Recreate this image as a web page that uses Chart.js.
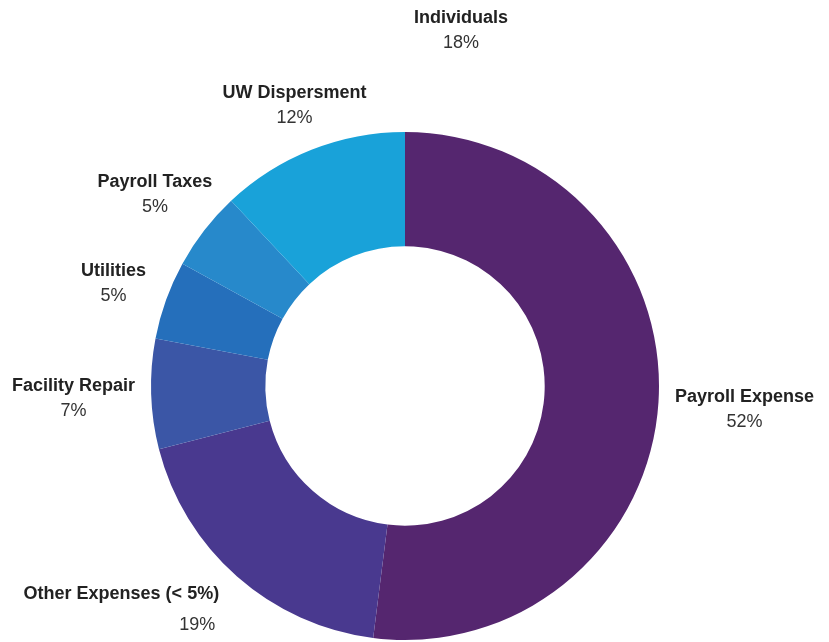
<!DOCTYPE html>
<html lang="en">
<head>
    <meta charset="UTF-8">
    <title>Expenses</title>
    <script src="https://cdn.jsdelivr.net/npm/chart.js"></script>
    <style>
        html, body {
            margin: 0;
            padding: 0;
            background: #ffffff;
        }
        .chart-container {
            width: 829px;
            height: 642px;
        }
    </style>
</head>
<body>
    <div class="chart-container">
        <canvas id="expenseChart"></canvas>
    </div>
    <script>
        // data
        const categories = ['Payroll Expense', 'Other Expenses (< 5%)', 'Facility Repair', 'Utilities', 'Payroll Taxes', 'UW Dispersment', 'Individuals'];
        const values = [52, 19, 7, 5, 5, 12, 0];
        const shareLabels = ['52%', '19%', '7%', '5%', '5%', '12%', '18%'];
        const colors = ['#55266f', '#49398f', '#3b56a6', '#256fbb', '#2789cb', '#19a2d9', '#ffffff'];

        // outside labels: name above, share below, placed on the slice's mid angle
        const outsideLabels = {
            id: 'outsideLabels',
            afterDatasetsDraw(chart, args, opts) {
                const ctx = chart.ctx;
                const meta = chart.getDatasetMeta(0);
                meta.data.forEach((arc, i) => {
                    const p = arc.getProps(['x', 'y', 'startAngle', 'endAngle', 'outerRadius'], true);
                    const mid = (p.startAngle + p.endAngle) / 2;
                    const r = p.outerRadius + opts.distance;
                    let ax = p.x + Math.cos(mid) * r;
                    let ay = p.y + Math.sin(mid) * r + 2;

                    ctx.save();
                    ctx.font = 'bold 18px "Liberation Sans", Arial, sans-serif';
                    const w = ctx.measureText(categories[i]).width;
                    // keep side labels clear of the ring
                    if (Math.abs(Math.cos(mid)) > 0.98) {
                        if (Math.cos(mid) > 0) ax = Math.max(ax, p.x + p.outerRadius + opts.gap + w / 2);
                        else ax = Math.min(ax, p.x - p.outerRadius - opts.gap - w / 2);
                    }
                    const n = opts.nudge[i] || {};
                    const nx = ax + (n.dx || 0) + (n.nameDx || 0);
                    const ny = ay - 12.5 + (n.dy || 0) + (n.nameDy || 0);
                    const px = ax + (n.dx || 0);
                    const py = ay + 12.5 + (n.dy || 0) + (n.pctDy || 0);

                    ctx.textAlign = 'center';
                    ctx.textBaseline = 'middle';
                    ctx.fillStyle = '#222222';
                    ctx.fillText(categories[i], nx, ny);
                    ctx.font = '18px "Liberation Sans", Arial, sans-serif';
                    ctx.fillStyle = '#333333';
                    ctx.fillText(shareLabels[i], px, py);
                    ctx.restore();
                });
            }
        };

        const ctx = document.getElementById('expenseChart').getContext('2d');
        const expenseChart = new Chart(ctx, {
            type: 'doughnut',
            data: {
                labels: categories,
                datasets: [{
                    data: values,
                    backgroundColor: colors,
                    borderWidth: 0
                }]
            },
            options: {
                responsive: true,
                maintainAspectRatio: false,
                animation: false,
                cutout: '55%',
                layout: {
                    padding: { top: 132, bottom: 2, left: 151, right: 170 }
                },
                plugins: {
                    legend: { display: false },
                    tooltip: { enabled: false },
                    outsideLabels: {
                        distance: 60,
                        gap: 16,
                        nudge: {
                            0: { dy: 2 },
                            1: { nameDx: -76, nameDy: -17, pctDy: -11 },
                            2: { dy: 1 },
                            3: { dx: 4, dy: 2 },
                            4: { dx: -2, dy: -1 },
                            5: { dx: 5, dy: 9 },
                            6: { dx: 56, dy: -43 }
                        }
                    }
                }
            },
            plugins: [outsideLabels]
        });
    </script>
</body>
</html>
